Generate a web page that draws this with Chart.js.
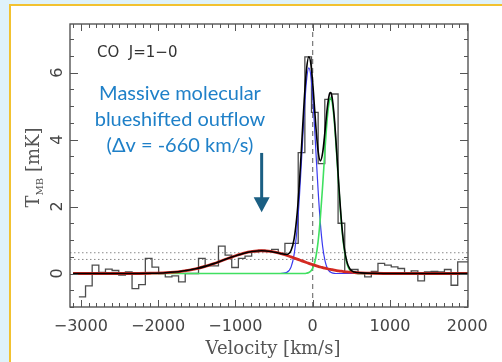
<!DOCTYPE html>
<html>
<head>
<meta charset="utf-8">
<script src="https://cdn.jsdelivr.net/npm/chart.js@4"></script>
<style>
  body { margin: 0; width: 502px; height: 362px; background: #dff2fa; overflow: hidden; position: relative; }
  #panel { position: absolute; left: 9px; top: 4px; width: 600px; height: 400px; background: #fff; border: 2px solid #f2c230; }
  #chart { position: absolute; left: 0; top: 0; }
</style>
</head>
<body>
<div id="panel"></div>
<canvas id="chart" width="502" height="362"></canvas>
<script>
// CO J=1-0 spectrum, channel left edges (km/s) and T_MB (mK)
const chanVel = [-3025, -2939, -2853, -2767, -2681, -2595, -2509, -2423, -2337, -2251,
  -2165, -2079, -1993, -1907, -1821, -1735, -1649, -1563, -1477, -1391,
  -1305, -1219, -1133, -1047, -961, -875, -789, -703, -617, -531,
  -445, -359, -273, -187, -101, -15, 71, 157, 243, 329,
  415, 501, 587, 673, 759, 845, 931, 1017, 1103, 1189,
  1275, 1361, 1447, 1533, 1619, 1705, 1791, 1877, 1963, 2049];
const chanT = [-0.70, -0.37, 0.25, 0.03, 0.13, 0.09, -0.05, 0.05, -0.45, -0.33,
  0.45, 0.19, 0.00, -0.10, -0.07, -0.25, 0.00, 0.00, 0.45, 0.23,
  0.23, 0.82, 0.55, 0.18, 0.45, 0.52, 0.65, 0.70, 0.68, 0.72,
  0.60, 0.90, 0.90, 3.61, 6.47, 4.81, 3.28, 5.20, 5.36, 1.50,
  0.02, 0.12, 0.00, -0.10, 0.06, 0.30, 0.25, 0.20, 0.15, 0.00,
  0.08, -0.22, 0.05, 0.06, 0.05, 0.12, -0.35, 0.35, 0.35, 0.35];

// fitted components, sampled at fitVel
const fitVel = [-3100, -2700, -2400, -2100, -1900, -1700, -1500, -1300, -1100, -900,
  -780, -660, -540, -420, -340, -280, -240, -200, -170, -140,
  -110, -80, -50, -20, 10, 40, 70, 100, 130, 160,
  190, 220, 235, 250, 280, 310, 340, 370, 400, 440,
  480, 540, 620, 780, 1100, 1500, 2100];
const fitOutflow = [0, 0, 0, 0.008, 0.024, 0.065, 0.147, 0.28, 0.447, 0.60,
  0.659, 0.68, 0.659, 0.60, 0.545, 0.497, 0.464, 0.43, 0.404, 0.378,
  0.353, 0.328, 0.303, 0.279, 0.257, 0.235, 0.214, 0.194, 0.176, 0.158,
  0.142, 0.127, 0.12, 0.113, 0.10, 0.088, 0.078, 0.068, 0.059, 0.049,
  0.041, 0.03, 0.019, 0.008, 0.001, 0, 0];
const fitBlue = [0, 0, 0, 0, 0, 0, 0, 0, 0, 0,
  0, 0, 0, 0, 0.025, 0.19, 0.57, 1.38, 2.35, 3.56,
  4.79, 5.75, 6.14, 5.84, 4.94, 3.72, 2.50, 1.49, 0.79, 0.376,
  0.158, 0.06, 0.035, 0.02, 0.006, 0, 0, 0, 0, 0,
  0, 0, 0, 0, 0, 0, 0];
const fitRed = [0, 0, 0, 0, 0, 0, 0, 0, 0, 0,
  0, 0, 0, 0, 0, 0, 0, 0, 0, 0,
  0, 0.009, 0.03, 0.084, 0.21, 0.47, 0.945, 1.68, 2.65, 3.72,
  4.66, 5.19, 5.25, 5.15, 4.55, 3.58, 2.51, 1.56, 0.867, 0.33,
  0.10, 0.012, 0, 0, 0, 0, 0];
const fitTotal = [0, 0, 0, 0.008, 0.024, 0.065, 0.147, 0.28, 0.447, 0.60,
  0.659, 0.68, 0.659, 0.60, 0.57, 0.687, 1.034, 1.81, 2.754, 3.938,
  5.143, 6.087, 6.473, 6.203, 5.407, 4.425, 3.659, 3.364, 3.616, 4.254,
  4.96, 5.377, 5.405, 5.283, 4.656, 3.668, 2.588, 1.628, 0.926, 0.379,
  0.141, 0.042, 0.019, 0.008, 0.001, 0, 0];

const noiseLevels = [0.42, 0.62];
const systemicVel = 0;
const xTickLabels = [-3000, -2000, -1000, 0, 1000, 2000];
const yTickLabels = [0, 2, 4, 6];
const lineName = "CO  J=1\u22120";
const noteLines = ["Massive molecular", "blueshifted outflow", "(\u0394v = -660 km/s)"];
const outflowVel = -660;

const xMin = -3140, xMax = 2010, yMin = -1, yMax = 7.45;

function pts(xs, ys) {
  return xs.map((x, i) => ({ x: x, y: ys[i] }));
}

const datasets = [
  {
    data: pts(chanVel, chanT), stepped: "before", borderColor: "#4d4d4d", borderWidth: 1.3,
    pointRadius: 0, clip: 0, order: 6
  },
  {
    data: pts(fitVel, fitBlue), borderColor: "#3a3af0", borderWidth: 1.2,
    cubicInterpolationMode: "monotone", pointRadius: 0, clip: 0, order: 5
  },
  {
    data: pts(fitVel, fitRed), borderColor: "#40e060", borderWidth: 1.6,
    cubicInterpolationMode: "monotone", pointRadius: 0, clip: 0, order: 4
  },
  {
    data: pts(fitVel, fitOutflow), borderColor: "#d42a22", borderWidth: 2.8,
    cubicInterpolationMode: "monotone", pointRadius: 0, clip: 0, order: 3
  },
  {
    data: pts(fitVel, fitTotal), borderColor: "#000000", borderWidth: 1.6,
    cubicInterpolationMode: "monotone", pointRadius: 0, clip: 0, order: 2
  }
];
noiseLevels.forEach(lv => {
  datasets.push({
    data: [{ x: xMin, y: lv }, { x: xMax, y: lv }], borderColor: "#8a8a8a", borderWidth: 1,
    borderDash: [1.5, 2.5], pointRadius: 0, order: 7
  });
});
datasets.push({
  data: [{ x: systemicVel, y: yMin }, { x: systemicVel, y: yMax }], borderColor: "#777",
  borderWidth: 1.2, borderDash: [5, 4], pointRadius: 0, order: 7
});

const decor = {
  id: "decor",
  afterDraw(chart) {
    const ctx = chart.ctx;
    const a = chart.chartArea;
    const xs = chart.scales.x, ys = chart.scales.y;
    ctx.save();
    ctx.strokeStyle = "#555";
    ctx.lineWidth = 1.4;
    ctx.strokeRect(a.left, a.top, a.right - a.left, a.bottom - a.top);

    // inward ticks
    ctx.lineWidth = 1;
    ctx.beginPath();
    for (let v = -3100; v <= 2000; v += 100) {
      const px = Math.round(xs.getPixelForValue(v)) + 0.5;
      const len = v % 1000 === 0 ? 7 : 4;
      ctx.moveTo(px, a.bottom); ctx.lineTo(px, a.bottom - len);
      ctx.moveTo(px, a.top); ctx.lineTo(px, a.top + len);
    }
    for (let v = -1; v <= 7; v += 0.5) {
      const py = Math.round(ys.getPixelForValue(v)) + 0.5;
      const len = v % 2 === 0 ? 8 : 4;
      ctx.moveTo(a.left, py); ctx.lineTo(a.left + len, py);
      ctx.moveTo(a.right, py); ctx.lineTo(a.right - len, py);
    }
    ctx.stroke();

    // y tick labels (rotated)
    ctx.fillStyle = "#444";
    ctx.font = "16px 'DejaVu Sans'";
    ctx.textAlign = "center";
    ctx.textBaseline = "middle";
    yTickLabels.forEach(v => {
      ctx.save();
      ctx.translate(a.left - 12, ys.getPixelForValue(v));
      ctx.rotate(-Math.PI / 2);
      ctx.fillText(String(v), 0, 0);
      ctx.restore();
    });

    // y title with subscript
    ctx.save();
    ctx.translate(33, (a.top + a.bottom) / 2 + 2);
    ctx.rotate(-Math.PI / 2);
    ctx.textAlign = "left";
    ctx.textBaseline = "alphabetic";
    ctx.fillStyle = "#555";
    const fBig = "18px 'DejaVu Serif'", fSmall = "10px 'DejaVu Serif'";
    ctx.font = fBig; const wT = ctx.measureText("T").width;
    ctx.font = fSmall; const wS = ctx.measureText("MB").width;
    ctx.font = fBig; const wR = ctx.measureText(" [mK]").width;
    let x0 = -(wT + wS + wR) / 2;
    ctx.fillText("T", x0, 6);
    ctx.font = fSmall; ctx.fillText("MB", x0 + wT, 10);
    ctx.font = fBig; ctx.fillText(" [mK]", x0 + wT + wS, 6);
    ctx.restore();

    // x title
    ctx.font = "18px 'DejaVu Serif'";
    ctx.textAlign = "center";
    ctx.textBaseline = "alphabetic";
    ctx.fillStyle = "#555";
    ctx.fillText("Velocity [km/s]", (a.left + a.right) / 2 + 4, 354);

    // line name
    ctx.font = "15px 'DejaVu Sans'";
    ctx.fillStyle = "#333";
    ctx.textAlign = "left";
    ctx.fillText(lineName, 97, 57);

    // annotation
    ctx.font = "20px Lato";
    ctx.fillStyle = "#1f80c8";
    ctx.textAlign = "center";
    noteLines.forEach((t, i) => ctx.fillText(t, 180, 100 + i * 26));

    // arrow
    const ax = xs.getPixelForValue(outflowVel);
    const tip = ys.getPixelForValue(1.83);
    const tail = ys.getPixelForValue(3.6);
    ctx.strokeStyle = "#1b5f83";
    ctx.fillStyle = "#1b5f83";
    ctx.lineWidth = 3;
    ctx.beginPath();
    ctx.moveTo(ax, tail); ctx.lineTo(ax, tip - 12);
    ctx.stroke();
    ctx.beginPath();
    ctx.moveTo(ax - 8, tip - 15); ctx.lineTo(ax + 8, tip - 15); ctx.lineTo(ax, tip);
    ctx.closePath();
    ctx.fill();
    ctx.restore();
  }
};

new Chart(document.getElementById("chart"), {
  type: "line",
  data: { datasets: datasets },
  options: {
    responsive: false,
    animation: false,
    events: [],
    layout: { padding: { left: 0, top: 24, right: 34, bottom: 0 } },
    plugins: { legend: { display: false }, tooltip: { enabled: false } },
    scales: {
      x: {
        type: "linear", min: xMin, max: xMax,
        grid: { display: false, drawTicks: false },
        border: { display: false },
        afterFit: s => { s.height = 55; },
        afterBuildTicks: s => { s.ticks = xTickLabels.map(v => ({ value: v })); },
        ticks: {
          padding: 10, color: "#444", maxRotation: 0, autoSkip: false,
          font: { family: "DejaVu Sans", size: 16 },
          callback: v => (v < 0 ? "\u2212" + Math.abs(v) : String(v))
        }
      },
      y: {
        type: "linear", min: yMin, max: yMax,
        grid: { display: false, drawTicks: false },
        border: { display: false },
        afterFit: s => { s.width = 70; },
        ticks: { display: false }
      }
    }
  },
  plugins: [decor]
});
</script>
</body>
</html>
